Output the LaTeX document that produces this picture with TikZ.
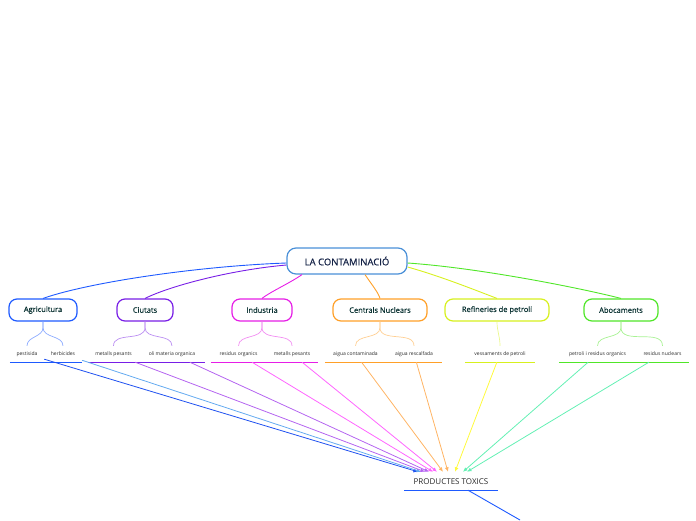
\documentclass[tikz,border=0pt]{standalone}
\usepackage{fontspec}
\setmainfont{Open Sans}
\newfontfamily\heavyfont[FakeBold=0.35]{Open Sans}
\usepackage{xcolor}
\usetikzlibrary{arrows.meta}
\usetikzlibrary{math}
\definecolor{rootblue}{RGB}{74,144,216}
\definecolor{rootink}{RGB}{20,34,70}
\definecolor{topicink}{RGB}{10,50,50}
\definecolor{subink}{RGB}{40,40,40}
\definecolor{agri}{RGB}{30,90,255}
\definecolor{ciut}{RGB}{120,30,230}
\definecolor{indu}{RGB}{230,30,230}
\definecolor{cent}{RGB}{255,160,40}
\definecolor{refi}{RGB}{215,240,30}
\definecolor{aboc}{RGB}{80,230,40}
\definecolor{linkblue}{RGB}{30,80,240}
\definecolor{linksky}{RGB}{100,170,240}
\definecolor{linkpurple}{RGB}{180,100,240}
\definecolor{linkpink}{RGB}{255,100,255}
\definecolor{linkorange}{RGB}{255,180,100}
\definecolor{linkyellow}{RGB}{255,250,60}
\definecolor{linkmint}{RGB}{100,240,180}

\begin{document}
\begin{tikzpicture}[x=1pt, y=-1pt,
  root/.style={draw=rootblue, line width=1.2, fill=white, rounded corners=9,
    minimum width=120, minimum height=26, text=rootink,
    font=\heavyfont\fontsize{9.5}{11}\selectfont},
  topic/.style={draw=#1, line width=1.2, fill=white, rounded corners=8,
    minimum height=22, text=topicink, font=\heavyfont\fontsize{7.5}{9}\selectfont},
  sub/.style={inner sep=0, minimum height=16, text height=4, text depth=1,
    text=subink, font=\fontsize{5}{6}\selectfont},
  branch/.style={draw=#1, line width=0.9},
  brace/.style={draw=#1!50, line width=0.7},
  uline/.style={draw=#1, line width=1.3},
  link/.style={draw=#1, line width=0.8, -{Latex[length=4.5pt,width=4pt]}},
  toxic/.style={inner sep=0, minimum width=93, minimum height=18,
    text height=6, text depth=0, text=subink, font=\fontsize{8}{9}\selectfont}
]
\tikzmath{
\yt=310;
\ys=354;
}
\useasboundingbox (0,0) rectangle (696,520);

% main topic
\node[root] (root) at (347,261) {LA CONTAMINACIÓ};

% topics
\node[topic=agri, minimum width=68] (agri) at (43,\yt) {Agricultura};
\node[topic=ciut, minimum width=56] (ciut) at (145,\yt) {Ciutats};
\node[topic=indu, minimum width=60] (indu) at (262,\yt) {Industria};
\node[topic=cent, minimum width=94] (cent) at (380,\yt) {Centrals Nuclears};
\node[topic=refi, minimum width=104] (refi) at (497,\yt) {Refineries de petroli};
\node[topic=aboc, minimum width=74] (aboc) at (621,\yt) {Abocaments};

\draw[branch=agri] ([yshift=-2pt]root.west) .. controls (200,266) and (90,282) .. (agri.north);
\draw[branch=ciut] ([yshift=-4pt]root.west) .. controls (230,270) and (170,286) .. (ciut.north);
\draw[branch=indu] ([xshift=-45pt]root.south) .. controls (290,283) and (270,292) .. (indu.north);
\draw[branch=cent] ([xshift=18pt]root.south) .. controls (372,285) and (378,292) .. (cent.north);
\draw[branch=refi] ([yshift=-6pt]root.east) .. controls (440,276) and (475,290) .. (refi.north);
\draw[branch=aboc] ([yshift=-2pt]root.east) .. controls (480,268) and (580,288) .. (aboc.north);

% subtopics
\node[sub, minimum width=34] (pest) at (27,\ys) {pestisida};
\node[sub, minimum width=38] (herb) at (63,\ys) {herbicides};
\node[sub, minimum width=51] (metc) at (113.5,\ys) {metalls pesants};
\node[sub, minimum width=66] (oli) at (172,\ys) {oli materia organica};
\node[sub, minimum width=55] (reso) at (238.5,\ys) {residus organics};
\node[sub, minimum width=52] (meti) at (292,\ys) {metalls pesants};
\node[sub, minimum width=61] (aigc) at (355.5,\ys) {aigua contaminada};
\node[sub, minimum width=56] (aigr) at (414,\ys) {aigua rescalfada};
\node[sub, minimum width=70] (vess) at (500,\ys) {vessaments de petroli};
\node[sub, minimum width=77] (petr) at (597.5,\ys) {petroli i residus organics};
\node[sub, minimum width=53] (resn) at (662.5,\ys) {residus nuclears};

\draw[brace=agri] (agri.south) -- ++(0,6) to[out=-90,in=90] (pest.north);
\draw[brace=agri] (agri.south) -- ++(0,6) to[out=-90,in=90] (herb.north);
\draw[brace=ciut] (ciut.south) -- ++(0,6) to[out=-90,in=90] (metc.north);
\draw[brace=ciut] (ciut.south) -- ++(0,6) to[out=-90,in=90] (oli.north);
\draw[brace=indu] (indu.south) -- ++(0,6) to[out=-90,in=90] (reso.north);
\draw[brace=indu] (indu.south) -- ++(0,6) to[out=-90,in=90] (meti.north);
\draw[brace=cent] (cent.south) -- ++(0,6) to[out=-90,in=90] (aigc.north);
\draw[brace=cent] (cent.south) -- ++(0,6) to[out=-90,in=90] (aigr.north);
\draw[brace=refi] (refi.south) to[out=-90,in=90] (vess.north);
\draw[brace=aboc] (aboc.south) -- ++(0,6) to[out=-90,in=90] (petr.north);
\draw[brace=aboc] (aboc.south) -- ++(0,6) to[out=-90,in=90] (resn.north);

\draw[uline=agri] (pest.south west) -- (herb.south east);
\draw[uline=ciut] (metc.south west) -- (oli.south east);
\draw[uline=indu] (reso.south west) -- (meti.south east);
\draw[uline=cent] (aigc.south west) -- (aigr.south east);
\draw[uline=refi] (vess.south west) -- (vess.south east);
\draw[uline=aboc] (petr.south west) -- (resn.south east);

% products
\node[toxic] (toxic) at (451,481) {PRODUCTES TOXICS};
\coordinate (exit) at (520,520);
\draw[uline=agri] (toxic.south west) -- (toxic.south east);
\draw[branch=agri] ([xshift=17pt]toxic.south) -- (exit);

\draw[link=linkblue] (pest) -- ([xshift=-33pt]toxic.north);
\draw[link=linksky] (herb) -- ([xshift=-30pt]toxic.north);
\draw[link=linkpurple] (metc) -- ([xshift=-26pt]toxic.north);
\draw[link=linkpurple] (oli) -- ([xshift=-22pt]toxic.north);
\draw[link=linkpink] (reso) -- ([xshift=-18pt]toxic.north);
\draw[link=linkpink] (meti) -- ([xshift=-14pt]toxic.north);
\draw[link=linkorange] (aigc) -- ([xshift=-8pt]toxic.north);
\draw[link=linkorange] (aigr) -- ([xshift=-3pt]toxic.north);
\draw[link=linkyellow] (vess) -- ([xshift=4pt]toxic.north);
\draw[link=linkmint] (petr) -- ([xshift=12pt]toxic.north);
\draw[link=linkmint] (resn) -- ([xshift=16pt]toxic.north);
\end{tikzpicture}
\end{document}
